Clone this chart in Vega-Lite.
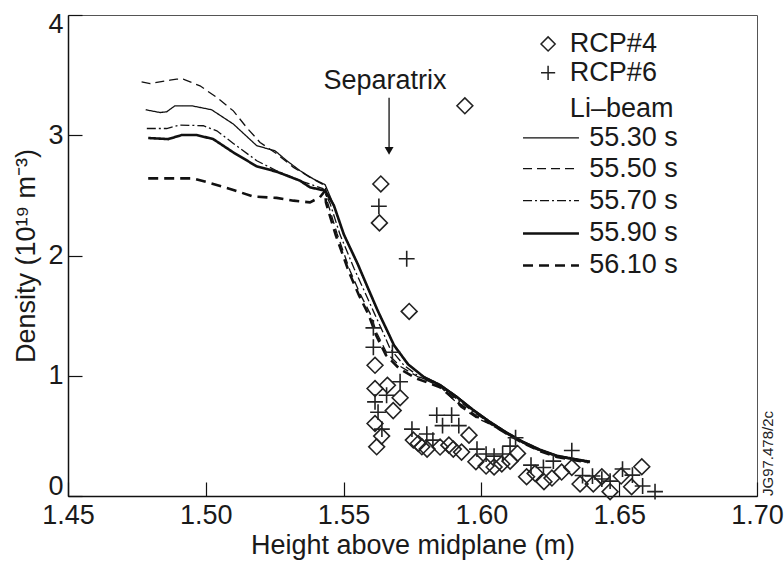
{
  "$schema": "https://vega.github.io/schema/vega-lite/v6.json",
  "width": 689,
  "height": 481,
  "autosize": {"type": "none"},
  "padding": {"left": 68, "top": 15, "right": 27, "bottom": 68},
  "background": "white",
  "config": {
    "font": "Liberation Sans",
    "view": {"stroke": "#555", "strokeWidth": 1},
    "axis": {
      "grid": false,
      "domainColor": "#111",
      "domainWidth": 1.5,
      "tickColor": "#111",
      "tickWidth": 1.2,
      "tickSize": -14,
      "labelFont": "Liberation Sans",
      "labelFontSize": 27,
      "labelColor": "#1a1a1a",
      "titleFont": "Liberation Sans",
      "titleFontSize": 27,
      "titleFontWeight": "normal",
      "titleColor": "#1a1a1a",
      "labelFlush": false,
      "labelOverlap": false
    }
  },
  "datasets": {
    "beam": [
      {"run": "55.30 s", "x": 1.4782, "y": 3.212}, {"run": "55.30 s", "x": 1.4834, "y": 3.189}, {"run": "55.30 s", "x": 1.4858, "y": 3.195},
      {"run": "55.30 s", "x": 1.4888, "y": 3.245}, {"run": "55.30 s", "x": 1.4949, "y": 3.245}, {"run": "55.30 s", "x": 1.5021, "y": 3.212},
      {"run": "55.30 s", "x": 1.5100, "y": 3.093}, {"run": "55.30 s", "x": 1.5185, "y": 2.913}, {"run": "55.30 s", "x": 1.5221, "y": 2.890},
      {"run": "55.30 s", "x": 1.5251, "y": 2.871}, {"run": "55.30 s", "x": 1.5294, "y": 2.788}, {"run": "55.30 s", "x": 1.5342, "y": 2.705},
      {"run": "55.30 s", "x": 1.5390, "y": 2.637}, {"run": "55.30 s", "x": 1.5433, "y": 2.589}, {"run": "55.30 s", "x": 1.5462, "y": 2.432},
      {"run": "55.30 s", "x": 1.5498, "y": 2.191}, {"run": "55.30 s", "x": 1.5549, "y": 1.942}, {"run": "55.30 s", "x": 1.5585, "y": 1.743},
      {"run": "55.30 s", "x": 1.5621, "y": 1.552}, {"run": "55.30 s", "x": 1.5657, "y": 1.378}, {"run": "55.30 s", "x": 1.5679, "y": 1.270},
      {"run": "55.30 s", "x": 1.5730, "y": 1.104}, {"run": "55.30 s", "x": 1.5788, "y": 0.996}, {"run": "55.30 s", "x": 1.5850, "y": 0.929},
      {"run": "55.30 s", "x": 1.5911, "y": 0.830}, {"run": "55.30 s", "x": 1.5970, "y": 0.722}, {"run": "55.30 s", "x": 1.6031, "y": 0.622},
      {"run": "55.30 s", "x": 1.6093, "y": 0.531}, {"run": "55.30 s", "x": 1.6151, "y": 0.456}, {"run": "55.30 s", "x": 1.6213, "y": 0.390},
      {"run": "55.30 s", "x": 1.6274, "y": 0.340}, {"run": "55.30 s", "x": 1.6332, "y": 0.315}, {"run": "55.30 s", "x": 1.6394, "y": 0.290},

      {"run": "55.50 s", "x": 1.4767, "y": 3.444}, {"run": "55.50 s", "x": 1.4798, "y": 3.430}, {"run": "55.50 s", "x": 1.4870, "y": 3.458},
      {"run": "55.50 s", "x": 1.4894, "y": 3.466}, {"run": "55.50 s", "x": 1.4918, "y": 3.466}, {"run": "55.50 s", "x": 1.4979, "y": 3.411},
      {"run": "55.50 s", "x": 1.5040, "y": 3.314}, {"run": "55.50 s", "x": 1.5100, "y": 3.203}, {"run": "55.50 s", "x": 1.5148, "y": 3.065},
      {"run": "55.50 s", "x": 1.5197, "y": 2.940}, {"run": "55.50 s", "x": 1.5257, "y": 2.846}, {"run": "55.50 s", "x": 1.5318, "y": 2.733},
      {"run": "55.50 s", "x": 1.5378, "y": 2.650}, {"run": "55.50 s", "x": 1.5433, "y": 2.581}, {"run": "55.50 s", "x": 1.5440, "y": 2.456},
      {"run": "55.50 s", "x": 1.5476, "y": 2.183}, {"run": "55.50 s", "x": 1.5523, "y": 1.876}, {"run": "55.50 s", "x": 1.5559, "y": 1.685},
      {"run": "55.50 s", "x": 1.5596, "y": 1.519}, {"run": "55.50 s", "x": 1.5621, "y": 1.353}, {"run": "55.50 s", "x": 1.5657, "y": 1.187},
      {"run": "55.50 s", "x": 1.5705, "y": 1.079}, {"run": "55.50 s", "x": 1.5766, "y": 0.996}, {"run": "55.50 s", "x": 1.5850, "y": 0.913},
      {"run": "55.50 s", "x": 1.5926, "y": 0.739}, {"run": "55.50 s", "x": 1.5984, "y": 0.647}, {"run": "55.50 s", "x": 1.6031, "y": 0.598},
      {"run": "55.50 s", "x": 1.6093, "y": 0.515}, {"run": "55.50 s", "x": 1.6151, "y": 0.440}, {"run": "55.50 s", "x": 1.6213, "y": 0.373},
      {"run": "55.50 s", "x": 1.6274, "y": 0.332}, {"run": "55.50 s", "x": 1.6332, "y": 0.307}, {"run": "55.50 s", "x": 1.6380, "y": 0.282},

      {"run": "55.70 s", "x": 1.4786, "y": 3.056}, {"run": "55.70 s", "x": 1.4858, "y": 3.056}, {"run": "55.70 s", "x": 1.4906, "y": 3.085},
      {"run": "55.70 s", "x": 1.4991, "y": 3.079}, {"run": "55.70 s", "x": 1.5040, "y": 3.037}, {"run": "55.70 s", "x": 1.5100, "y": 2.932},
      {"run": "55.70 s", "x": 1.5185, "y": 2.788}, {"run": "55.70 s", "x": 1.5257, "y": 2.705}, {"run": "55.70 s", "x": 1.5342, "y": 2.622},
      {"run": "55.70 s", "x": 1.5425, "y": 2.556}, {"run": "55.70 s", "x": 1.5451, "y": 2.432}, {"run": "55.70 s", "x": 1.5487, "y": 2.174},
      {"run": "55.70 s", "x": 1.5538, "y": 1.892}, {"run": "55.70 s", "x": 1.5574, "y": 1.710}, {"run": "55.70 s", "x": 1.5610, "y": 1.527},
      {"run": "55.70 s", "x": 1.5643, "y": 1.361}, {"run": "55.70 s", "x": 1.5668, "y": 1.228}, {"run": "55.70 s", "x": 1.5719, "y": 1.087},
      {"run": "55.70 s", "x": 1.5777, "y": 0.988}, {"run": "55.70 s", "x": 1.5850, "y": 0.921}, {"run": "55.70 s", "x": 1.5915, "y": 0.797},
      {"run": "55.70 s", "x": 1.5973, "y": 0.697}, {"run": "55.70 s", "x": 1.6031, "y": 0.606}, {"run": "55.70 s", "x": 1.6093, "y": 0.523},
      {"run": "55.70 s", "x": 1.6151, "y": 0.448}, {"run": "55.70 s", "x": 1.6213, "y": 0.382}, {"run": "55.70 s", "x": 1.6274, "y": 0.332},
      {"run": "55.70 s", "x": 1.6332, "y": 0.307}, {"run": "55.70 s", "x": 1.6390, "y": 0.282},

      {"run": "55.90 s", "x": 1.4791, "y": 2.977}, {"run": "55.90 s", "x": 1.4864, "y": 2.968}, {"run": "55.90 s", "x": 1.4913, "y": 3.002},
      {"run": "55.90 s", "x": 1.4967, "y": 3.002}, {"run": "55.90 s", "x": 1.5027, "y": 2.968}, {"run": "55.90 s", "x": 1.5100, "y": 2.857},
      {"run": "55.90 s", "x": 1.5185, "y": 2.741}, {"run": "55.90 s", "x": 1.5257, "y": 2.697}, {"run": "55.90 s", "x": 1.5342, "y": 2.622},
      {"run": "55.90 s", "x": 1.5378, "y": 2.567}, {"run": "55.90 s", "x": 1.5433, "y": 2.539}, {"run": "55.90 s", "x": 1.5465, "y": 2.415},
      {"run": "55.90 s", "x": 1.5501, "y": 2.174}, {"run": "55.90 s", "x": 1.5552, "y": 1.925}, {"run": "55.90 s", "x": 1.5589, "y": 1.726},
      {"run": "55.90 s", "x": 1.5625, "y": 1.535}, {"run": "55.90 s", "x": 1.5661, "y": 1.361}, {"run": "55.90 s", "x": 1.5683, "y": 1.253},
      {"run": "55.90 s", "x": 1.5734, "y": 1.095}, {"run": "55.90 s", "x": 1.5792, "y": 0.988}, {"run": "55.90 s", "x": 1.5850, "y": 0.921},
      {"run": "55.90 s", "x": 1.5911, "y": 0.822}, {"run": "55.90 s", "x": 1.5970, "y": 0.714}, {"run": "55.90 s", "x": 1.6031, "y": 0.614},
      {"run": "55.90 s", "x": 1.6093, "y": 0.523}, {"run": "55.90 s", "x": 1.6151, "y": 0.448}, {"run": "55.90 s", "x": 1.6213, "y": 0.382},
      {"run": "55.90 s", "x": 1.6274, "y": 0.332}, {"run": "55.90 s", "x": 1.6332, "y": 0.307}, {"run": "55.90 s", "x": 1.6394, "y": 0.282},

      {"run": "56.10 s", "x": 1.4791, "y": 2.641}, {"run": "56.10 s", "x": 1.4955, "y": 2.641}, {"run": "56.10 s", "x": 1.5027, "y": 2.595},
      {"run": "56.10 s", "x": 1.5100, "y": 2.545}, {"run": "56.10 s", "x": 1.5172, "y": 2.490}, {"run": "56.10 s", "x": 1.5257, "y": 2.479},
      {"run": "56.10 s", "x": 1.5318, "y": 2.456}, {"run": "56.10 s", "x": 1.5378, "y": 2.442}, {"run": "56.10 s", "x": 1.5414, "y": 2.484},
      {"run": "56.10 s", "x": 1.5433, "y": 2.539}, {"run": "56.10 s", "x": 1.5436, "y": 2.440}, {"run": "56.10 s", "x": 1.5472, "y": 2.166},
      {"run": "56.10 s", "x": 1.5520, "y": 1.859}, {"run": "56.10 s", "x": 1.5556, "y": 1.668}, {"run": "56.10 s", "x": 1.5592, "y": 1.502},
      {"run": "56.10 s", "x": 1.5618, "y": 1.336}, {"run": "56.10 s", "x": 1.5654, "y": 1.170}, {"run": "56.10 s", "x": 1.5701, "y": 1.062},
      {"run": "56.10 s", "x": 1.5763, "y": 0.979}, {"run": "56.10 s", "x": 1.5850, "y": 0.905}, {"run": "56.10 s", "x": 1.5922, "y": 0.763},
      {"run": "56.10 s", "x": 1.5980, "y": 0.664}, {"run": "56.10 s", "x": 1.6031, "y": 0.606}, {"run": "56.10 s", "x": 1.6093, "y": 0.515},
      {"run": "56.10 s", "x": 1.6151, "y": 0.440}, {"run": "56.10 s", "x": 1.6213, "y": 0.373}, {"run": "56.10 s", "x": 1.6274, "y": 0.324},
      {"run": "56.10 s", "x": 1.6332, "y": 0.299}, {"run": "56.10 s", "x": 1.6387, "y": 0.282}
    ],
    "rcp": [
      {"probe": "RCP#4", "x": 1.5940, "y": 3.245}, {"probe": "RCP#4", "x": 1.5635, "y": 2.595}, {"probe": "RCP#4", "x": 1.5630, "y": 2.271},
      {"probe": "RCP#4", "x": 1.5738, "y": 1.535}, {"probe": "RCP#4", "x": 1.5614, "y": 1.087}, {"probe": "RCP#4", "x": 1.5614, "y": 0.894},
      {"probe": "RCP#4", "x": 1.5659, "y": 0.921}, {"probe": "RCP#4", "x": 1.5705, "y": 0.817}, {"probe": "RCP#4", "x": 1.5680, "y": 0.710},
      {"probe": "RCP#4", "x": 1.5614, "y": 0.603}, {"probe": "RCP#4", "x": 1.5638, "y": 0.498}, {"probe": "RCP#4", "x": 1.5620, "y": 0.409},
      {"probe": "RCP#4", "x": 1.5753, "y": 0.465}, {"probe": "RCP#4", "x": 1.5771, "y": 0.437}, {"probe": "RCP#4", "x": 1.5784, "y": 0.409},
      {"probe": "RCP#4", "x": 1.5803, "y": 0.390}, {"probe": "RCP#4", "x": 1.5850, "y": 0.407}, {"probe": "RCP#4", "x": 1.5882, "y": 0.423},
      {"probe": "RCP#4", "x": 1.5898, "y": 0.390}, {"probe": "RCP#4", "x": 1.5928, "y": 0.365}, {"probe": "RCP#4", "x": 1.5955, "y": 0.506},
      {"probe": "RCP#4", "x": 1.5980, "y": 0.285}, {"probe": "RCP#4", "x": 1.6017, "y": 0.249}, {"probe": "RCP#4", "x": 1.6046, "y": 0.241},
      {"probe": "RCP#4", "x": 1.6074, "y": 0.266}, {"probe": "RCP#4", "x": 1.6104, "y": 0.290}, {"probe": "RCP#4", "x": 1.6131, "y": 0.354},
      {"probe": "RCP#4", "x": 1.6164, "y": 0.160}, {"probe": "RCP#4", "x": 1.6195, "y": 0.188}, {"probe": "RCP#4", "x": 1.6227, "y": 0.119},
      {"probe": "RCP#4", "x": 1.6256, "y": 0.149}, {"probe": "RCP#4", "x": 1.6291, "y": 0.199}, {"probe": "RCP#4", "x": 1.6328, "y": 0.237},
      {"probe": "RCP#4", "x": 1.6358, "y": 0.100}, {"probe": "RCP#4", "x": 1.6406, "y": 0.100}, {"probe": "RCP#4", "x": 1.6437, "y": 0.160},
      {"probe": "RCP#4", "x": 1.6467, "y": 0.036}, {"probe": "RCP#4", "x": 1.6507, "y": 0.166}, {"probe": "RCP#4", "x": 1.6545, "y": 0.077},
      {"probe": "RCP#4", "x": 1.6582, "y": 0.243},

      {"probe": "RCP#6", "x": 1.5628, "y": 2.409}, {"probe": "RCP#6", "x": 1.5729, "y": 1.973}, {"probe": "RCP#6", "x": 1.5608, "y": 1.398},
      {"probe": "RCP#6", "x": 1.5608, "y": 1.237}, {"probe": "RCP#6", "x": 1.5677, "y": 1.195}, {"probe": "RCP#6", "x": 1.5705, "y": 0.950},
      {"probe": "RCP#6", "x": 1.5656, "y": 0.838}, {"probe": "RCP#6", "x": 1.5614, "y": 0.783}, {"probe": "RCP#6", "x": 1.5625, "y": 0.697},
      {"probe": "RCP#6", "x": 1.5639, "y": 0.556}, {"probe": "RCP#6", "x": 1.5748, "y": 0.556}, {"probe": "RCP#6", "x": 1.5802, "y": 0.515},
      {"probe": "RCP#6", "x": 1.5824, "y": 0.465}, {"probe": "RCP#6", "x": 1.5838, "y": 0.672}, {"probe": "RCP#6", "x": 1.5859, "y": 0.585},
      {"probe": "RCP#6", "x": 1.5892, "y": 0.672}, {"probe": "RCP#6", "x": 1.5918, "y": 0.585}, {"probe": "RCP#6", "x": 1.5984, "y": 0.390},
      {"probe": "RCP#6", "x": 1.6017, "y": 0.349}, {"probe": "RCP#6", "x": 1.6046, "y": 0.332}, {"probe": "RCP#6", "x": 1.6077, "y": 0.349},
      {"probe": "RCP#6", "x": 1.6104, "y": 0.415}, {"probe": "RCP#6", "x": 1.6124, "y": 0.485}, {"probe": "RCP#6", "x": 1.6180, "y": 0.257},
      {"probe": "RCP#6", "x": 1.6225, "y": 0.237}, {"probe": "RCP#6", "x": 1.6261, "y": 0.290}, {"probe": "RCP#6", "x": 1.6328, "y": 0.378},
      {"probe": "RCP#6", "x": 1.6367, "y": 0.170}, {"probe": "RCP#6", "x": 1.6403, "y": 0.166}, {"probe": "RCP#6", "x": 1.6437, "y": 0.141},
      {"probe": "RCP#6", "x": 1.6467, "y": 0.124}, {"probe": "RCP#6", "x": 1.6512, "y": 0.224}, {"probe": "RCP#6", "x": 1.6548, "y": 0.174},
      {"probe": "RCP#6", "x": 1.6585, "y": 0.083}, {"probe": "RCP#6", "x": 1.6630, "y": 0.036}
    ],
    "keySymbols": [
      {"probe": "RCP#4", "x": 1.6242, "y": 3.759},
      {"probe": "RCP#6", "x": 1.6242, "y": 3.519}
    ],
    "keyLines": [
      {"run": "55.30 s", "x": 1.6151, "x2": 1.6354, "y": 2.979},
      {"run": "55.50 s", "x": 1.6151, "x2": 1.6354, "y": 2.722},
      {"run": "55.70 s", "x": 1.6151, "x2": 1.6354, "y": 2.456},
      {"run": "55.90 s", "x": 1.6151, "x2": 1.6354, "y": 2.183},
      {"run": "56.10 s", "x": 1.6151, "x2": 1.6354, "y": 1.917}
    ],
    "keyText": [
      {"label": "RCP#4", "x": 1.6321, "y": 3.759},
      {"label": "RCP#6", "x": 1.6321, "y": 3.519},
      {"label": "Li–beam", "x": 1.6321, "y": 3.220},
      {"label": "55.30 s", "x": 1.6391, "y": 2.979},
      {"label": "55.50 s", "x": 1.6391, "y": 2.722},
      {"label": "55.70 s", "x": 1.6391, "y": 2.456},
      {"label": "55.90 s", "x": 1.6391, "y": 2.183},
      {"label": "56.10 s", "x": 1.6391, "y": 1.917}
    ]
  },
  "encoding": {
    "x": {
      "type": "quantitative",
      "scale": {"domain": [1.45, 1.70], "nice": false, "zero": false},
      "axis": {
        "title": "Height above midplane (m)",
        "values": [1.45, 1.5, 1.55, 1.6, 1.65, 1.7],
        "format": ".2f",
        "labelPadding": 20,
        "titlePadding": 4
      }
    },
    "y": {
      "type": "quantitative",
      "scale": {"domain": [0, 4], "nice": false},
      "axis": {
        "title": "Density (10¹⁹ m⁻³)",
        "values": [0, 1, 2, 3, 4],
        "labelPadding": 19,
        "labelFlush": true,
        "labelFlushOffset": 4,
        "titlePadding": 7
      }
    }
  },
  "layer": [
    {
      "data": {"name": "beam"},
      "mark": {"type": "line", "color": "#111", "interpolate": "linear"},
      "encoding": {
        "x": {"field": "x", "type": "quantitative"},
        "y": {"field": "y", "type": "quantitative"},
        "detail": {"field": "run", "type": "nominal"},
        "strokeDash": {
          "field": "run", "type": "nominal", "legend": null,
          "scale": {
            "domain": ["55.30 s", "55.50 s", "55.70 s", "55.90 s", "56.10 s"],
            "range": [[1, 0], [9, 5], [9, 3, 2, 3], [1, 0], [10, 6]]
          }
        },
        "strokeWidth": {
          "condition": {"test": "datum.run === '55.90 s' || datum.run === '56.10 s'", "value": 2.6},
          "value": 1.3
        }
      }
    },
    {
      "data": {"name": "keyLines"},
      "mark": {"type": "rule", "color": "#111"},
      "encoding": {
        "x": {"field": "x", "type": "quantitative"},
        "x2": {"field": "x2"},
        "y": {"field": "y", "type": "quantitative"},
        "strokeDash": {"field": "run", "type": "nominal", "legend": null},
        "strokeWidth": {
          "condition": {"test": "datum.run === '55.90 s' || datum.run === '56.10 s'", "value": 2.6},
          "value": 1.3
        }
      }
    },
    {
      "data": {"name": "rcp"},
      "mark": {"type": "point", "filled": false, "color": "#222", "strokeWidth": 1.6, "size": 250, "opacity": 1},
      "encoding": {
        "x": {"field": "x", "type": "quantitative"},
        "y": {"field": "y", "type": "quantitative"},
        "shape": {
          "field": "probe", "type": "nominal", "legend": null,
          "scale": {"domain": ["RCP#4", "RCP#6"], "range": ["diamond", "M-1,0L1,0M0,-1L0,1"]}
        }
      }
    },
    {
      "data": {"name": "keySymbols"},
      "mark": {"type": "point", "filled": false, "color": "#222", "strokeWidth": 1.5, "size": 200, "opacity": 1},
      "encoding": {
        "x": {"field": "x", "type": "quantitative"},
        "y": {"field": "y", "type": "quantitative"},
        "shape": {"field": "probe", "type": "nominal", "legend": null}
      }
    },
    {
      "data": {"name": "keyText"},
      "mark": {"type": "text", "align": "left", "baseline": "middle", "fontSize": 27, "color": "#1a1a1a"},
      "encoding": {
        "x": {"field": "x", "type": "quantitative"},
        "y": {"field": "y", "type": "quantitative"},
        "text": {"field": "label"}
      }
    },
    {
      "data": {"values": [{"label": "Separatrix", "x": 1.5650, "y": 3.452}]},
      "mark": {"type": "text", "align": "center", "baseline": "middle", "fontSize": 27, "color": "#1a1a1a"},
      "encoding": {
        "x": {"field": "x", "type": "quantitative"},
        "y": {"field": "y", "type": "quantitative"},
        "text": {"field": "label"}
      }
    },
    {
      "data": {"values": [{"x": 1.5665, "y": 3.311, "y2": 2.90}]},
      "mark": {"type": "rule", "color": "#111", "strokeWidth": 1.3},
      "encoding": {
        "x": {"field": "x", "type": "quantitative"},
        "y": {"field": "y", "type": "quantitative"},
        "y2": {"field": "y2"}
      }
    },
    {
      "data": {"values": [{"x": 1.5665, "y": 2.871}]},
      "mark": {"type": "point", "shape": "triangle-down", "filled": true, "color": "#111", "size": 80, "opacity": 1},
      "encoding": {
        "x": {"field": "x", "type": "quantitative"},
        "y": {"field": "y", "type": "quantitative"}
      }
    },
    {
      "data": {"values": [{"label": "JG97.478/2c", "x": 1.70, "y": 0}]},
      "mark": {"type": "text", "angle": 270, "align": "left", "baseline": "top", "dy": 4, "fontSize": 15, "color": "#222"},
      "encoding": {
        "x": {"field": "x", "type": "quantitative"},
        "y": {"field": "y", "type": "quantitative"},
        "text": {"field": "label"}
      }
    }
  ]
}
